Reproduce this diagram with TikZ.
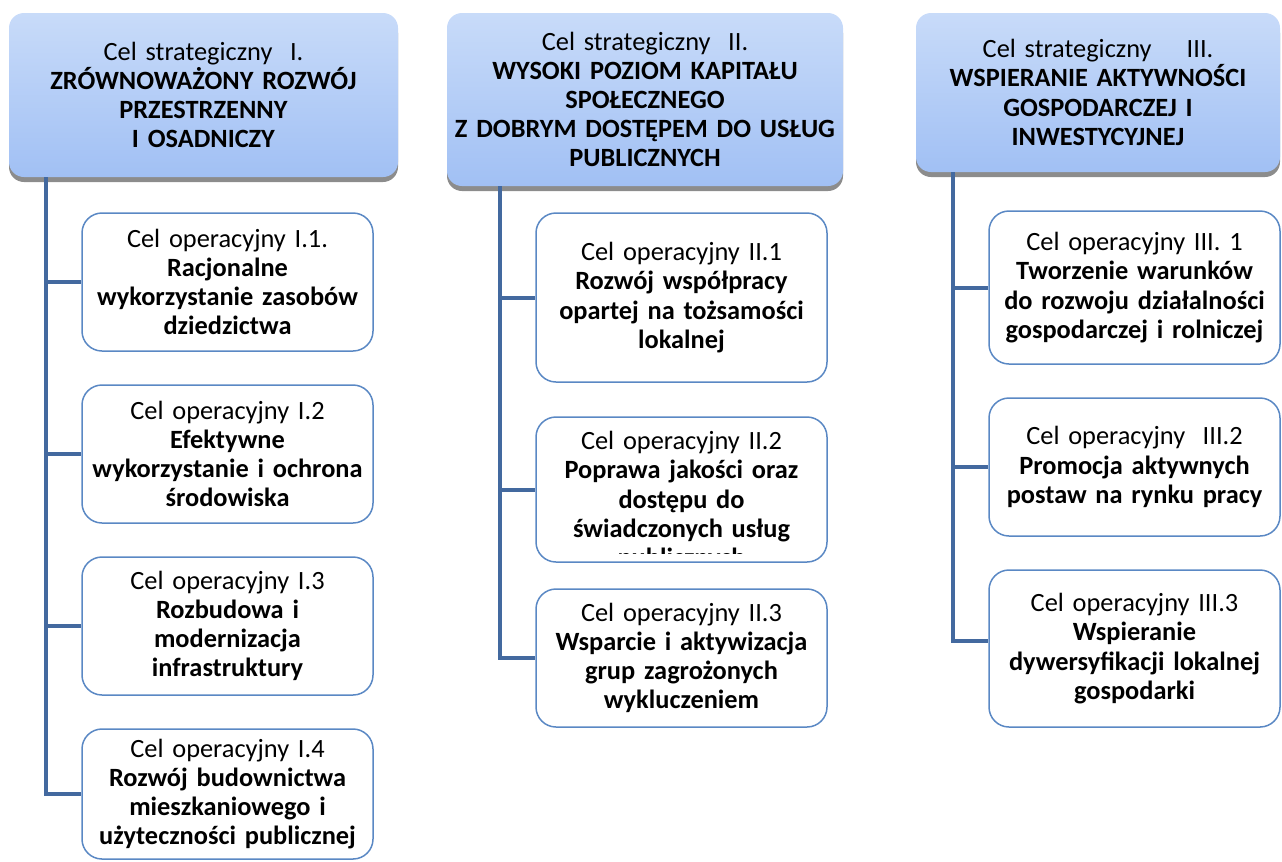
\documentclass[tikz,border=0pt]{standalone}
\usepackage{fontspec}
\setmainfont{Carlito}
\usepackage{tikz}
\usetikzlibrary{shapes.geometric, shadows}
\definecolor{headtop}{HTML}{C8DBF9}
\definecolor{headbot}{HTML}{A1C0F4}
\definecolor{opborder}{HTML}{5A88C4}
\definecolor{trunkblue}{HTML}{43699F}
\tikzstyle{strat} = [rectangle, rounded corners=0.3cm,
minimum height=3.28cm, inner xsep=0.05cm,
text centered, align=center,
top color=headtop, bottom color=headbot, draw=none,
drop shadow={shadow xshift=0cm, shadow yshift=-0.1cm, fill=black, opacity=0.45}]
\tikzstyle{oper} = [rectangle, rounded corners=0.4cm,
minimum width=5.82cm,
minimum height=2.76cm, inner xsep=0.05cm,
text centered, align=center,
text width=5.7cm, draw=opborder, line width=0.03cm, fill=white]
\tikzstyle{optext} = [align=center, text width=5.7cm, inner sep=0pt]
\tikzstyle{trunk} = [line width=0.08cm, draw=trunkblue]

\begin{document}
\begin{tikzpicture}[font=\fontsize{15}{16.6}\selectfont]
\useasboundingbox (0,0) rectangle (25.64,-17.22);

% cele strategiczne
\node (h1) [strat, minimum width=7.78cm, text width=7.6cm] at (4.07,-1.9) {Cel strategiczny\ \ I.\\
\textbf{ZRÓWNOWAŻONY ROZWÓJ}\\ \textbf{PRZESTRZENNY}\\ \textbf{I OSADNICZY}};
\node (h2) [strat, minimum width=7.92cm, minimum height=3.46cm, text width=7.8cm] at (12.9,-1.99) {Cel strategiczny\ \ II.\\
\textbf{WYSOKI POZIOM KAPITAŁU}\\ \textbf{SPOŁECZNEGO}\\ \textbf{Z DOBRYM DOSTĘPEM DO USŁUG}\\ \textbf{PUBLICZNYCH}};
\node (h3) [strat, minimum width=7.28cm, minimum height=3.18cm, text width=7.1cm] at (21.96,-1.85) {Cel strategiczny\ \ \ \ III.\\
\textbf{WSPIERANIE AKTYWNOŚCI}\\ \textbf{GOSPODARCZEJ I}\\ \textbf{INWESTYCYJNEJ}};

% cele operacyjne I
\node (o11) [oper] at (4.55,-5.64) {Cel operacyjny I.1.\\ \textbf{Racjonalne}\\ \textbf{wykorzystanie zasobów}\\ \textbf{dziedzictwa}};
\node (o12) [oper, below of=o11, node distance=3.44cm] {Cel operacyjny I.2\\ \textbf{Efektywne}\\ \textbf{wykorzystanie i ochrona}\\ \textbf{środowiska}};
\node (o13) [oper, below of=o12, node distance=3.44cm] {Cel operacyjny I.3\\ \textbf{Rozbudowa i}\\ \textbf{modernizacja}\\ \textbf{infrastruktury}};
\node (o14) [oper, minimum height=2.6cm, below of=o13, node distance=3.36cm] {Cel operacyjny I.4\\ \textbf{Rozwój budownictwa}\\ \textbf{mieszkaniowego i}\\ \textbf{użyteczności publicznej}};

% cele operacyjne II
\node (o21) [oper, minimum height=3.38cm] at (13.63,-5.95) {Cel operacyjny II.1\\ \textbf{Rozwój współpracy}\\ \textbf{opartej na tożsamości}\\ \textbf{lokalnej}};
\node (o22) [oper, minimum height=2.9cm, below of=o21, node distance=3.84cm] {};
\begin{scope}
\clip ([yshift=0.18cm]o22.south west) rectangle (o22.north east);
\node (t22) [optext] at ([yshift=-0.23cm]o22.center) {Cel operacyjny II.2\\ \textbf{Poprawa jakości oraz}\\ \textbf{dostępu do}\\ \textbf{świadczonych usług}\\ \textbf{publicznych}};
\end{scope}
\node (o23) [oper, below of=o22, node distance=3.37cm] {Cel operacyjny II.3\\ \textbf{Wsparcie i aktywizacja}\\ \textbf{grup zagrożonych}\\ \textbf{wykluczeniem}};

% cele operacyjne III
\node (o31) [oper, minimum height=3.06cm] at (22.69,-5.75) {Cel operacyjny III. 1\\ \textbf{Tworzenie warunków}\\ \textbf{do rozwoju działalności}\\ \textbf{gospodarczej i rolniczej}};
\node (o32) [oper, below of=o31, node distance=3.59cm] {Cel operacyjny\ \ III.2\\ \textbf{Promocja aktywnych}\\ \textbf{postaw na rynku pracy}};
\node (o33) [oper, minimum height=3.14cm, below of=o32, node distance=3.63cm] {Cel operacyjny III.3\\ \textbf{Wspieranie}\\ \textbf{dywersyfikacji lokalnej}\\ \textbf{gospodarki}};

% linie
\coordinate (t1) at (0.92,0);
\coordinate (t2) at (10.0,0);
\coordinate (t3) at (19.06,0);
\draw [trunk] (h1.south -| t1) |- (o14.west);
\draw [trunk] (o11.west -| t1) -- (o11.west);
\draw [trunk] (o12.west -| t1) -- (o12.west);
\draw [trunk] (o13.west -| t1) -- (o13.west);
\draw [trunk] (h2.south -| t2) |- (o23.west);
\draw [trunk] (o21.west -| t2) -- (o21.west);
\draw [trunk] (o22.west -| t2) -- (o22.west);
\draw [trunk] (h3.south -| t3) |- ([yshift=0.16cm]o33.west);
\draw [trunk] (o31.west -| t3) -- (o31.west);
\draw [trunk] (o32.west -| t3) -- (o32.west);

\end{tikzpicture}
\end{document}
